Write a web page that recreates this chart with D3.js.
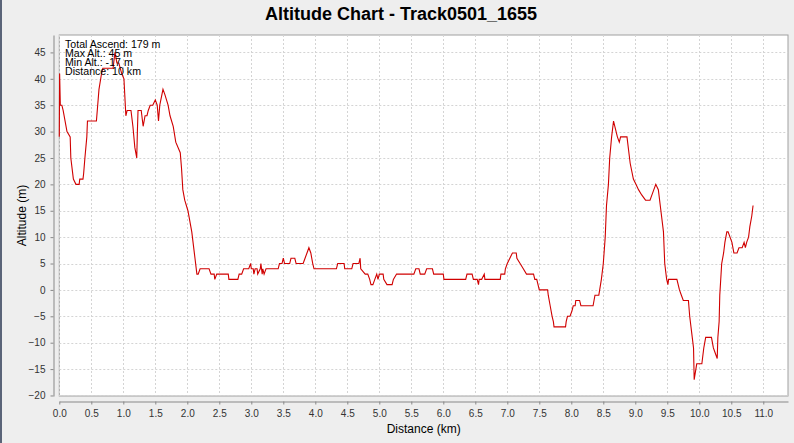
<!DOCTYPE html>
<html>
<head>
<meta charset="utf-8">
<script src="https://cdn.jsdelivr.net/npm/d3@7"></script>
<style>
  html, body { margin: 0; padding: 0; background: #eeeeee; }
  svg { display: block; font-family: "Liberation Sans", Arial, sans-serif; }
  .grid line { stroke: #d4d4d4; stroke-dasharray: 2,2; }
  .axis path, .axis line { stroke: #888; }
  .axis text { fill: #333; font-size: 10px; }
</style>
</head>
<body>
<div id="chart"></div>
<script>
// distance along the track (km) and altitude (m)
const distanceKm = [
  0.00, 0.005, 0.016, 0.04, 0.06, 0.12, 0.17, 0.18, 0.22, 0.26, 0.31, 0.32, 0.37, 0.38, 0.40, 0.43, 0.44,
  0.58, 0.62, 0.66, 0.68, 0.84, 0.87, 0.90, 0.93, 0.975, 1.01, 1.04, 1.06, 1.12, 1.15, 1.18, 1.21, 1.22,
  1.23, 1.28, 1.31, 1.34, 1.37, 1.39, 1.42, 1.46, 1.50, 1.53, 1.55, 1.57, 1.62, 1.65, 1.70, 1.73, 1.78,
  1.82, 1.89, 1.91, 1.93, 1.96, 2.01, 2.07, 2.12, 2.15, 2.17, 2.20, 2.34, 2.37, 2.42, 2.43, 2.46, 2.64,
  2.65, 2.79, 2.81, 2.85, 2.88, 2.96, 2.99, 3.00, 3.03, 3.04, 3.06, 3.09, 3.10, 3.14, 3.15, 3.17, 3.18,
  3.20, 3.23, 3.42, 3.44, 3.48, 3.50, 3.52, 3.60, 3.62, 3.68, 3.70, 3.81, 3.84, 3.87, 3.90, 3.93, 3.96,
  3.98, 4.33, 4.35, 4.45, 4.46, 4.57, 4.59, 4.68, 4.70, 4.71, 4.78, 4.82, 4.85, 4.87, 4.90, 4.93, 4.96,
  4.98, 5.00, 5.06, 5.07, 5.12, 5.20, 5.22, 5.27, 5.54, 5.57, 5.62, 5.64, 5.71, 5.74, 5.83, 5.85, 6.00,
  6.01, 6.35, 6.37, 6.45, 6.47, 6.53, 6.55, 6.56, 6.60, 6.64, 6.65, 6.89, 6.90, 6.96, 6.97, 7.00, 7.04,
  7.08, 7.14, 7.15, 7.20, 7.25, 7.30, 7.41, 7.43, 7.46, 7.48, 7.50, 7.63, 7.64, 7.67, 7.70, 7.72, 7.73,
  7.91, 7.92, 7.94, 7.98, 8.01, 8.03, 8.06, 8.07, 8.13, 8.15, 8.34, 8.37, 8.43, 8.47, 8.50, 8.53, 8.55,
  8.58, 8.60, 8.63, 8.66, 8.68, 8.72, 8.75, 8.77, 8.87, 8.92, 8.97, 9.01, 9.05, 9.10, 9.16, 9.23, 9.26,
  9.29, 9.32, 9.36, 9.39, 9.41, 9.44, 9.46, 9.49, 9.51, 9.52, 9.65, 9.69, 9.72, 9.75, 9.83, 9.85, 9.88,
  9.91, 9.92, 9.96, 10.04, 10.07, 10.10, 10.19, 10.22, 10.25, 10.28, 10.29, 10.31, 10.32, 10.35, 10.38,
  10.40, 10.43, 10.45, 10.48, 10.51, 10.54, 10.59, 10.62, 10.67, 10.70, 10.72, 10.74, 10.77, 10.79,
  10.82, 10.84
];
const altitudeM = [
  29, 41, 35, 35, 34, 30, 29, 25, 21, 20, 20, 21, 21, 22, 25, 29, 32,
  32, 38, 41, 42, 42, 45, 43, 43, 41, 40, 33, 34, 34, 31, 27, 25, 30,
  34, 34, 31, 33, 33, 34, 35, 35, 36, 35, 32, 35, 38, 37, 35, 33, 31,
  28, 26, 23, 19, 17, 15, 11, 6, 3, 3, 4, 4, 3, 3, 2, 3, 3,
  2, 2, 3, 3, 4, 4, 5, 4, 4, 3, 4, 4, 3, 4, 5, 3, 4,
  3, 4, 4, 5, 5, 6, 5, 5, 6, 6, 5, 5, 6, 7, 8, 7, 5,
  4, 4, 5, 5, 4, 4, 5, 5, 6, 4, 3, 3, 2, 1, 1, 2, 3,
  2, 3, 3, 2, 1, 1, 2, 3, 3, 4, 4, 3, 3, 4, 4, 3, 3,
  2, 2, 3, 3, 2, 2, 1, 2, 2, 3, 2, 2, 3, 3, 4, 5, 6,
  7, 7, 6, 5, 4, 3, 3, 2, 2, 1, 0, 0, -1, -3, -5, -6, -7,
  -7, -6, -5, -5, -4, -3, -3, -2, -2, -3, -3, -1, -1, 2, 5, 10, 16,
  20, 25, 29, 32, 31, 29, 28, 29, 29, 24, 21, 20, 19, 18, 17, 17, 18,
  19, 20, 19, 16, 14, 11, 5, 2, 1, 2, 2, 0, -1, -2, -2, -5, -8,
  -11, -17, -14, -14, -11, -9, -9, -11, -12, -13, -9, -6, -1, 5, 7,
  9, 11, 11, 10, 9, 7, 7, 8, 8, 9, 8, 9, 10, 12,
  14, 16
];

const xTicks = d3.range(0, 11.01, 0.5);
const yTicks = d3.range(-20, 46, 5);
const infoLines = ['Total Ascend: 179 m', 'Max Alt.: 45 m', 'Min Alt.: -17 m', 'Distance: 10 km'];

const w = 794;
const h = 443;
const plot = { left: 59.3, right: 788, top: 35, bottom: 396 };

const points = distanceKm.map((d, i) => ({ km: d, alt: altitudeM[i] }));

const xScale = d3.scaleLinear()
                 .domain([0, 11.386])
                 .range([plot.left, plot.right]);
const yScale = d3.scaleLinear()
                 .domain([-20.1, 48.3])
                 .range([plot.bottom, plot.top]);

const svg = d3.select('#chart')
  .append('svg')
  .attr('width', w)
  .attr('height', h);

svg.append('rect')
   .attr('width', w)
   .attr('height', h)
   .attr('fill', '#eeeeee');

// window edge on the left
svg.append('rect')
   .attr('width', 2)
   .attr('height', h)
   .attr('fill', '#5a6478');

svg.append('text')
   .attr('x', w / 2 + 4)
   .attr('y', 20)
   .attr('text-anchor', 'middle')
   .attr('font-size', 18)
   .attr('font-weight', 'bold')
   .attr('fill', '#000')
   .text('Altitude Chart - Track0501_1655');

svg.append('rect')
   .attr('x', plot.left)
   .attr('y', plot.top)
   .attr('width', plot.right - plot.left)
   .attr('height', plot.bottom - plot.top)
   .attr('fill', '#fff')
   .attr('stroke', '#a0a0a0');

// grid
const grid = svg.append('g').attr('class', 'grid');
grid.selectAll('.gx')
    .data(xTicks)
    .enter()
    .append('line')
    .attr('x1', (d) => Math.round(xScale(d)) + 0.5)
    .attr('x2', (d) => Math.round(xScale(d)) + 0.5)
    .attr('y1', plot.top)
    .attr('y2', plot.bottom);
grid.selectAll('.gy')
    .data(yTicks)
    .enter()
    .append('line')
    .attr('x1', plot.left)
    .attr('x2', plot.right)
    .attr('y1', (d) => Math.round(yScale(d)) + 0.5)
    .attr('y2', (d) => Math.round(yScale(d)) + 0.5);

const line = d3.line()
  .x((d) => xScale(d.km))
  .y((d) => yScale(d.alt));

svg.append('path')
   .datum(points)
   .attr('d', line)
   .attr('fill', 'none')
   .attr('stroke', '#d00000')
   .attr('stroke-width', 1.1);

// info box
svg.append('g')
   .selectAll('text')
   .data(infoLines)
   .enter()
   .append('text')
   .attr('x', 65)
   .attr('y', (d, i) => 48 + i * 9)
   .attr('font-size', 10.6)
   .attr('fill', '#000')
   .text((d) => d);

const yAxis = d3.axisLeft(yScale)
                .tickValues(yTicks)
                .tickSize(3)
                .tickSizeOuter(0)
                .tickPadding(5);
const xAxis = d3.axisBottom(xScale)
                .tickValues(xTicks)
                .tickSize(3)
                .tickSizeOuter(0)
                .tickPadding(5)
                .tickFormat(d3.format('.1f'));

svg.append('g')
   .attr('class', 'axis')
   .attr('transform', 'translate(53.5, 0)')
   .call(yAxis);

svg.append('g')
   .attr('class', 'axis')
   .attr('transform', 'translate(0, 401.5)')
   .call(xAxis);

svg.append('text')
   .attr('x', (plot.left + plot.right) / 2)
   .attr('y', 433)
   .attr('text-anchor', 'middle')
   .attr('font-size', 12)
   .attr('fill', '#000')
   .text('Distance (km)');

svg.append('text')
   .attr('transform', `translate(26, ${(plot.top + plot.bottom) / 2}) rotate(-90)`)
   .attr('text-anchor', 'middle')
   .attr('font-size', 12)
   .attr('fill', '#000')
   .text('Altitude (m)');
</script>
</body>
</html>
